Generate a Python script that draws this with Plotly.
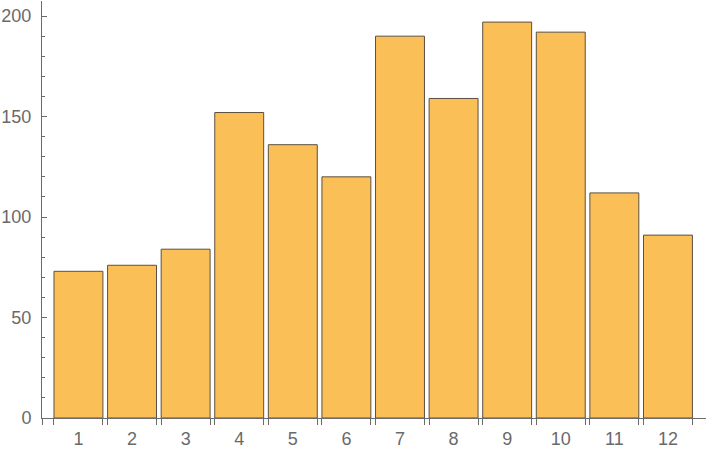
import plotly.graph_objects as go

# monthly values
months = list(range(1, 13))
values = [73, 76, 84, 152, 136, 120, 190, 159, 197, 192, 112, 91]

bar_gap = 0.087
half = (1 - bar_gap) / 2
edge_ticks = [0.32] + [m + s * half for m in months for s in (-1, 1)]

fig = go.Figure()
fig.add_trace(go.Bar(
    x=months, y=values,
    marker=dict(color="rgb(250,191,86)", line=dict(color="rgb(92,80,64)", width=1)),
))

axis_gray = "#6b6b6b"
fig.update_layout(
    width=720, height=450,
    margin=dict(l=41, r=14, t=1, b=30),
    plot_bgcolor="white", paper_bgcolor="white",
    bargap=bar_gap,
    showlegend=False,
    font=dict(family="Liberation Sans, Arial", size=18, color="#6a6a6a"),
    xaxis=dict(
        range=[0.32, 12.71],
        tickvals=months, ticktext=[str(m) for m in months],
        ticks="", showgrid=False, zeroline=False,
        showline=True, linecolor=axis_gray, linewidth=1,
        ticklabelstandoff=4,
        minor=dict(tickmode="array", tickvals=edge_ticks, ticks="outside",
                   ticklen=6, tickcolor=axis_gray, tickwidth=1, showgrid=False),
    ),
    yaxis=dict(
        range=[0, 207.5],
        tickvals=[0, 50, 100, 150, 200],
        ticks="inside", ticklen=5, tickcolor=axis_gray, tickwidth=1,
        showgrid=False, zeroline=False,
        showline=True, linecolor=axis_gray, linewidth=1,
        ticklabelstandoff=6,
        minor=dict(dtick=10, ticks="inside", ticklen=3,
                   tickcolor=axis_gray, tickwidth=1, showgrid=False),
    ),
)

# drop the default page margin so the figure sits at the window's corner
fig.write_html("out.html", config={"displayModeBar": False},
               post_script="document.body.style.margin='0';")
